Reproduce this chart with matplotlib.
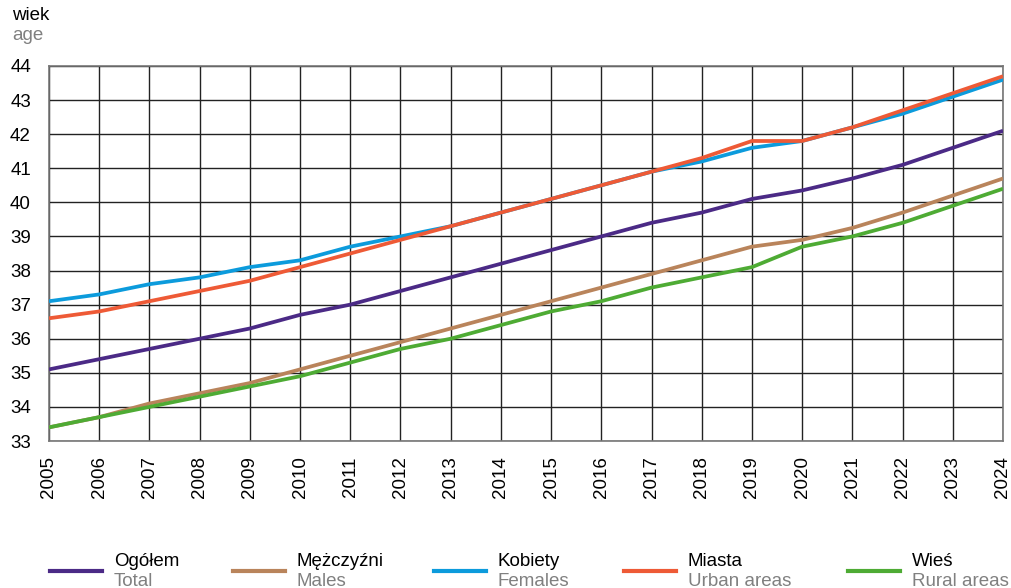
import matplotlib
matplotlib.use("Agg")
import matplotlib.pyplot as plt
from matplotlib.lines import Line2D

plt.rcParams['font.family'] = ['Liberation Sans', 'DejaVu Sans']

years = list(range(2005, 2025))
ogolem = [35.1, 35.4, 35.7, 36.0, 36.3, 36.7, 37.0, 37.4, 37.8, 38.2,
          38.6, 39.0, 39.4, 39.7, 40.1, 40.35, 40.7, 41.1, 41.6, 42.1]
mezczyzni = [33.4, 33.7, 34.1, 34.4, 34.7, 35.1, 35.5, 35.9, 36.3, 36.7,
             37.1, 37.5, 37.9, 38.3, 38.7, 38.9, 39.25, 39.7, 40.2, 40.7]
kobiety = [37.1, 37.3, 37.6, 37.8, 38.1, 38.3, 38.7, 39.0, 39.3, 39.7,
           40.1, 40.5, 40.9, 41.2, 41.6, 41.8, 42.2, 42.6, 43.1, 43.6]
miasta = [36.6, 36.8, 37.1, 37.4, 37.7, 38.1, 38.5, 38.9, 39.3, 39.7,
          40.1, 40.5, 40.9, 41.3, 41.8, 41.8, 42.2, 42.7, 43.2, 43.7]
wies = [33.4, 33.7, 34.0, 34.3, 34.6, 34.9, 35.3, 35.7, 36.0, 36.4,
        36.8, 37.1, 37.5, 37.8, 38.1, 38.7, 39.0, 39.4, 39.9, 40.4]

series_pl = ["Ogółem", "Mężczyźni", "Kobiety", "Miasta", "Wieś"]
series_en = ["Total", "Males", "Females", "Urban areas", "Rural areas"]
colors = ["#4B2A86", "#B9845B", "#0C9BDC", "#EE5A36", "#4EAB34"]
data = [ogolem, mezczyzni, kobiety, miasta, wies]
y_ticks = list(range(33, 45))

fig = plt.figure(figsize=(10.12, 5.88), dpi=100)
ax = fig.add_axes([49/1012, 1-441/588, (1003-49)/1012, (441-66)/588])

for vals, c in zip(data, colors):
    ax.plot(years, vals, color=c, lw=2.7, solid_capstyle='butt', zorder=3)

ax.set_xlim(2005, 2024)
ax.set_ylim(33, 44)
ax.set_xticks(years)
ax.set_xticklabels([str(y) for y in years], rotation=90, fontsize=13.5)
ax.set_yticks(y_ticks)
ax.set_yticklabels([str(v) for v in y_ticks], fontsize=13.5)
ax.tick_params(length=0)
ax.tick_params(axis='x', pad=11)
ax.tick_params(axis='y', pad=13)
ax.grid(True, color='#222222', lw=1.0, zorder=1)
for s in ax.spines.values():
    s.set_color('#777777')
    s.set_linewidth(1.2)

fig.text(12/1012, 1-16/588, "wiek", fontsize=13.5, color='black', va='center', ha='left')
fig.text(12/1012, 1-35/588, "age", fontsize=13.5, color='#808080', va='center', ha='left')

leg_x = [50, 233, 434, 624, 848]
for x0, pl, en, c in zip(leg_x, series_pl, series_en, colors):
    fig.add_artist(Line2D([x0/1012, (x0+52)/1012], [1-571/588, 1-571/588],
                          color=c, lw=3, transform=fig.transFigure))
    fig.text((x0+64)/1012, 1-561/588, pl, fontsize=13.5, color='black', va='center', ha='left')
    fig.text((x0+64)/1012, 1-581/588, en, fontsize=13.5, color='#808080', va='center', ha='left')

fig.savefig("out.png", dpi=100)
